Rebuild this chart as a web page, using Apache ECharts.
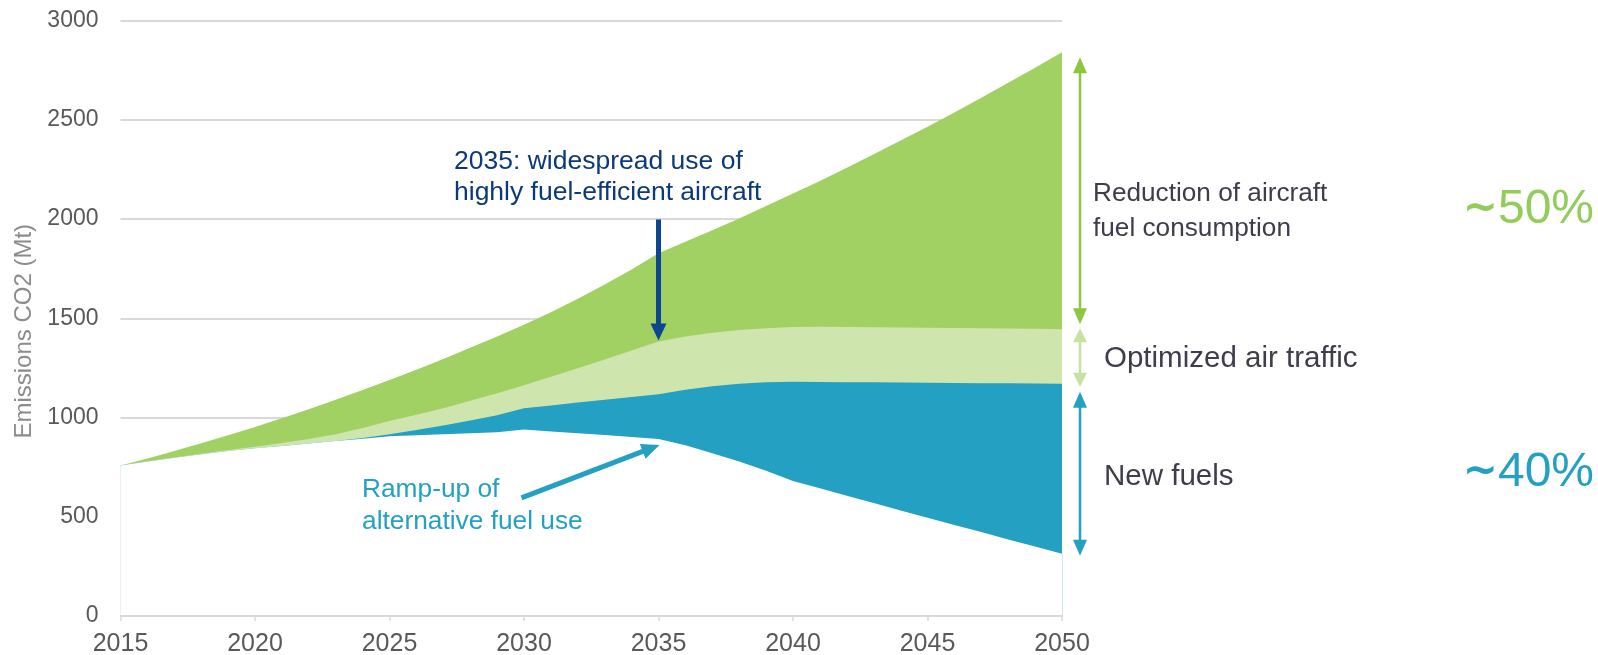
<!DOCTYPE html>
<html>
<head>
<meta charset="utf-8">
<title>Aviation CO2 emissions pathway</title>
<script src="https://cdn.jsdelivr.net/npm/echarts@6/dist/echarts.min.js"></script>
<style>
  html, body { margin: 0; padding: 0; background: #ffffff; }
  #chart { width: 1598px; height: 655px; }
</style>
</head>
<body>
<div id="chart"></div>
<script>
// Years on the horizontal axis
const years = [
  2015, 2016, 2017, 2018, 2019, 2020, 2021, 2022, 2023, 2024, 2025, 2026,
  2027, 2028, 2029, 2030, 2031, 2032, 2033, 2034, 2035, 2036, 2037, 2038,
  2039, 2040, 2041, 2042, 2043, 2044, 2045, 2046, 2047, 2048, 2049, 2050
];

// Emissions (Mt CO2) without any measure: top of the green band
const baseline = [
  758, 794, 831, 870, 910, 952, 996, 1042, 1089, 1138, 1189, 1241,
  1295, 1351, 1408, 1467, 1530, 1598, 1670, 1746, 1828, 1885, 1943, 2003,
  2065, 2128, 2192, 2258, 2326, 2395, 2465, 2537, 2611, 2686, 2762, 2840
];

// After reduction of aircraft fuel consumption: top of the light green band
const afterEfficiency = [
  758, 779, 799, 818, 836, 853, 871, 892, 915, 947, 982, 1014,
  1047, 1084, 1122, 1163, 1205, 1248, 1292, 1337, 1383, 1408, 1427, 1441,
  1450, 1456, 1457, 1456, 1455, 1454, 1452, 1451, 1450, 1448, 1447, 1445
];

// After optimized air traffic: top of the blue band
const afterTraffic = [
  758, 778, 797, 815, 831, 845, 857, 869, 882, 897, 915, 937,
  960, 985, 1011, 1046, 1061, 1075, 1089, 1103, 1117, 1140, 1158, 1170,
  1177, 1180, 1179, 1178, 1177, 1176, 1175, 1174, 1173, 1172, 1171, 1170
];

// Remaining emissions after new fuels: top of the white area
const remaining = [
  758, 778, 797, 815, 831, 845, 857, 869, 881, 893, 905, 911,
  916, 921, 926, 939, 930, 921, 912, 902, 892, 860, 820, 778,
  732, 680, 643, 606, 569, 532, 495, 459, 423, 386, 350, 313
];

const yTicks = [0, 500, 1000, 1500, 2000, 2500, 3000];
const xTicks = [2015, 2020, 2025, 2030, 2035, 2040, 2045, 2050];

const FONT = '"Liberation Sans", Arial, Helvetica, sans-serif';
const C_GREEN = '#a1d063';
const C_LIGHT = '#cfe5ae';
const C_BLUE = '#23a0c2';
const C_NAVY = '#0d4690';
const C_TEXT = '#3d3d4c';

const pairs = arr => years.map((y, i) => [y, arr[i]]);

function band(name, arr, color, z) {
  return {
    name: name,
    type: 'line',
    data: pairs(arr),
    showSymbol: false,
    symbol: 'none',
    silent: true,
    z: z,
    lineStyle: { width: 0, color: color },
    areaStyle: { color: color, opacity: 1, origin: 'start' }
  };
}

const chart = echarts.init(document.getElementById('chart'), null, { renderer: 'canvas' });

const option = {
  animation: false,
  backgroundColor: '#ffffff',
  grid: {
    left: 120.5, right: 536, top: 20.5, bottom: 39,
    containLabel: false, outerBoundsMode: 'none'
  },
  xAxis: {
    type: 'value',
    min: xTicks[0],
    max: xTicks[xTicks.length - 1],
    interval: 5,
    z: 10,
    axisLine: { show: true, lineStyle: { color: '#d9d9d9', width: 2 } },
    axisTick: { show: true, length: 5, lineStyle: { color: '#d9d9d9', width: 1.5 } },
    splitLine: { show: false },
    axisLabel: {
      color: '#595959', fontSize: 25, fontFamily: FONT, margin: 16,
      formatter: v => String(v)
    }
  },
  yAxis: {
    type: 'value',
    min: yTicks[0],
    max: yTicks[yTicks.length - 1],
    interval: 500,
    axisLine: { show: false },
    axisTick: { show: false },
    splitLine: { show: true, lineStyle: { color: '#d9d9d9', width: 2 } },
    axisLabel: {
      color: '#595959', fontSize: 23, fontFamily: FONT, margin: 22,
      formatter: v => String(v)
    }
  },
  series: [
    band('Reduction of aircraft fuel consumption', baseline, C_GREEN, 2),
    band('Optimized air traffic', afterEfficiency, C_LIGHT, 3),
    band('New fuels', afterTraffic, C_BLUE, 4),
    Object.assign(band('Remaining emissions', remaining, '#ffffff', 5), {
      markLine: {
        silent: true,
        symbol: ['none', 'none'],
        label: { show: false },
        lineStyle: { color: '#cfe8ee', width: 1, type: 'solid' },
        data: [
          [{ coord: [years[0], 0] }, { coord: [years[0], remaining[0]] }],
          [{ coord: [years[years.length - 1], 0] }, { coord: [years[years.length - 1], remaining[remaining.length - 1]] }]
        ]
      }
    })
  ]
};

chart.setOption(option);

// ---- annotations anchored on the data ----
const px = (x, y) => chart.convertToPixel({ gridIndex: 0 }, [x, y]);
const idx = y => years.indexOf(y);

function arrowHead(tipX, tipY, fromX, fromY, len, halfW, color) {
  const dx = tipX - fromX, dy = tipY - fromY;
  const d = Math.sqrt(dx * dx + dy * dy) || 1;
  const ux = dx / d, uy = dy / d;
  const bx = tipX - ux * len, by = tipY - uy * len;
  return {
    type: 'polygon', silent: true, z: 20,
    shape: { points: [[tipX, tipY], [bx - uy * halfW, by + ux * halfW], [bx + uy * halfW, by - ux * halfW]] },
    style: { fill: color }
  };
}

function arrow(x1, y1, x2, y2, color, width, len, halfW, both) {
  const dx = x2 - x1, dy = y2 - y1;
  const d = Math.sqrt(dx * dx + dy * dy) || 1;
  const ux = dx / d, uy = dy / d;
  const s = both ? len * 0.8 : 0;
  const els = [{
    type: 'line', silent: true, z: 19,
    shape: { x1: x1 + ux * s, y1: y1 + uy * s, x2: x2 - ux * len * 0.8, y2: y2 - uy * len * 0.8 },
    style: { stroke: color, lineWidth: width }
  }, arrowHead(x2, y2, x1, y1, len, halfW, color)];
  if (both) els.push(arrowHead(x1, y1, x2, y2, len, halfW, color));
  return els;
}

function label(text, x, y, size, color, align, rich) {
  const el = {
    type: 'text', silent: true, z: 25,
    style: {
      text: text, x: x, y: y,
      fill: color,
      font: size + 'px ' + FONT,
      textAlign: align || 'left', align: align || 'left',
      textVerticalAlign: 'middle', verticalAlign: 'middle'
    }
  };
  if (rich) el.style.rich = rich;
  return el;
}

// percentage labels: bold tilde followed by the figure
function percent(value, x, y, color) {
  return label('{t|~}{n|' + value + '}', x, y, 48, color, 'right', {
    t: { fontFamily: '"DejaVu Sans", sans-serif', fontWeight: 'bold', fontSize: 42, fill: color, verticalAlign: 'middle' },
    n: { fontFamily: FONT, fontSize: 48, fill: color, verticalAlign: 'middle' }
  });
}

const i35 = idx(2035), iEnd = years.length - 1;
const p35eff = px(2035, afterEfficiency[i35]);
const p35rem = px(2035, remaining[i35]);
const xEnd = px(2050, 0)[0];
const xArr = xEnd + 18;
const yTop = px(2050, baseline[iEnd])[1];
const yEff = px(2050, afterEfficiency[iEnd])[1];
const yAtm = px(2050, afterTraffic[iEnd])[1];
const yRem = px(2050, remaining[iEnd])[1];
const yMid = (px(2015, yTicks[0])[1] + px(2015, yTicks[yTicks.length - 1])[1]) / 2;

const graphics = [].concat(
  // 2035 arrow onto the efficiency curve
  arrow(p35eff[0], p35eff[1] - 122, p35eff[0], p35eff[1] - 1, C_NAVY, 5, 17, 8, false),
  // ramp-up arrow onto the remaining emissions curve
  arrow(p35rem[0] - 137, p35rem[1] + 59, p35rem[0] + 1, p35rem[1] + 6, C_BLUE, 5, 18, 8, false),
  // double arrows at 2050
  arrow(xArr, yTop + 5, xArr, yEff - 5, '#8dc63f', 2.5, 16, 7, true),
  arrow(xArr, yEff - 1, xArr, yAtm + 3, '#c6e2a3', 2.5, 14, 7, true),
  arrow(xArr, yAtm + 8, xArr, yRem + 2, C_BLUE, 2.5, 16, 7, true),
  [
    {
      type: 'text', silent: true, z: 25,
      x: 24.5, y: yMid + 13, rotation: Math.PI / 2,
      style: {
        text: 'Emissions CO2 (Mt)', x: 0, y: 0,
        fill: '#8c8c8c', font: '24px ' + FONT,
        textAlign: 'center', align: 'center',
        textVerticalAlign: 'middle', verticalAlign: 'middle'
      }
    },
    label('2035: widespread use of', 454, 162, 26.5, '#0c3a78'),
    label('highly fuel-efficient aircraft', 454, 193, 26.5, '#0c3a78'),
    label('Ramp-up of', 362, 489.5, 26.3, C_BLUE),
    label('alternative fuel use', 362, 521.5, 26.3, C_BLUE),
    label('Reduction of aircraft', 1093, 194, 26.2, C_TEXT),
    label('fuel consumption', 1093, 229, 26.2, C_TEXT),
    label('Optimized air traffic', 1104, 359, 29.5, C_TEXT),
    label('New fuels', 1104, 477, 29.5, C_TEXT),
    percent('50%', 1594, 210, '#94cc5c'),
    percent('40%', 1594, 473, C_BLUE)
  ]
);

chart.setOption({ graphic: { elements: graphics } });
</script>
</body>
</html>
